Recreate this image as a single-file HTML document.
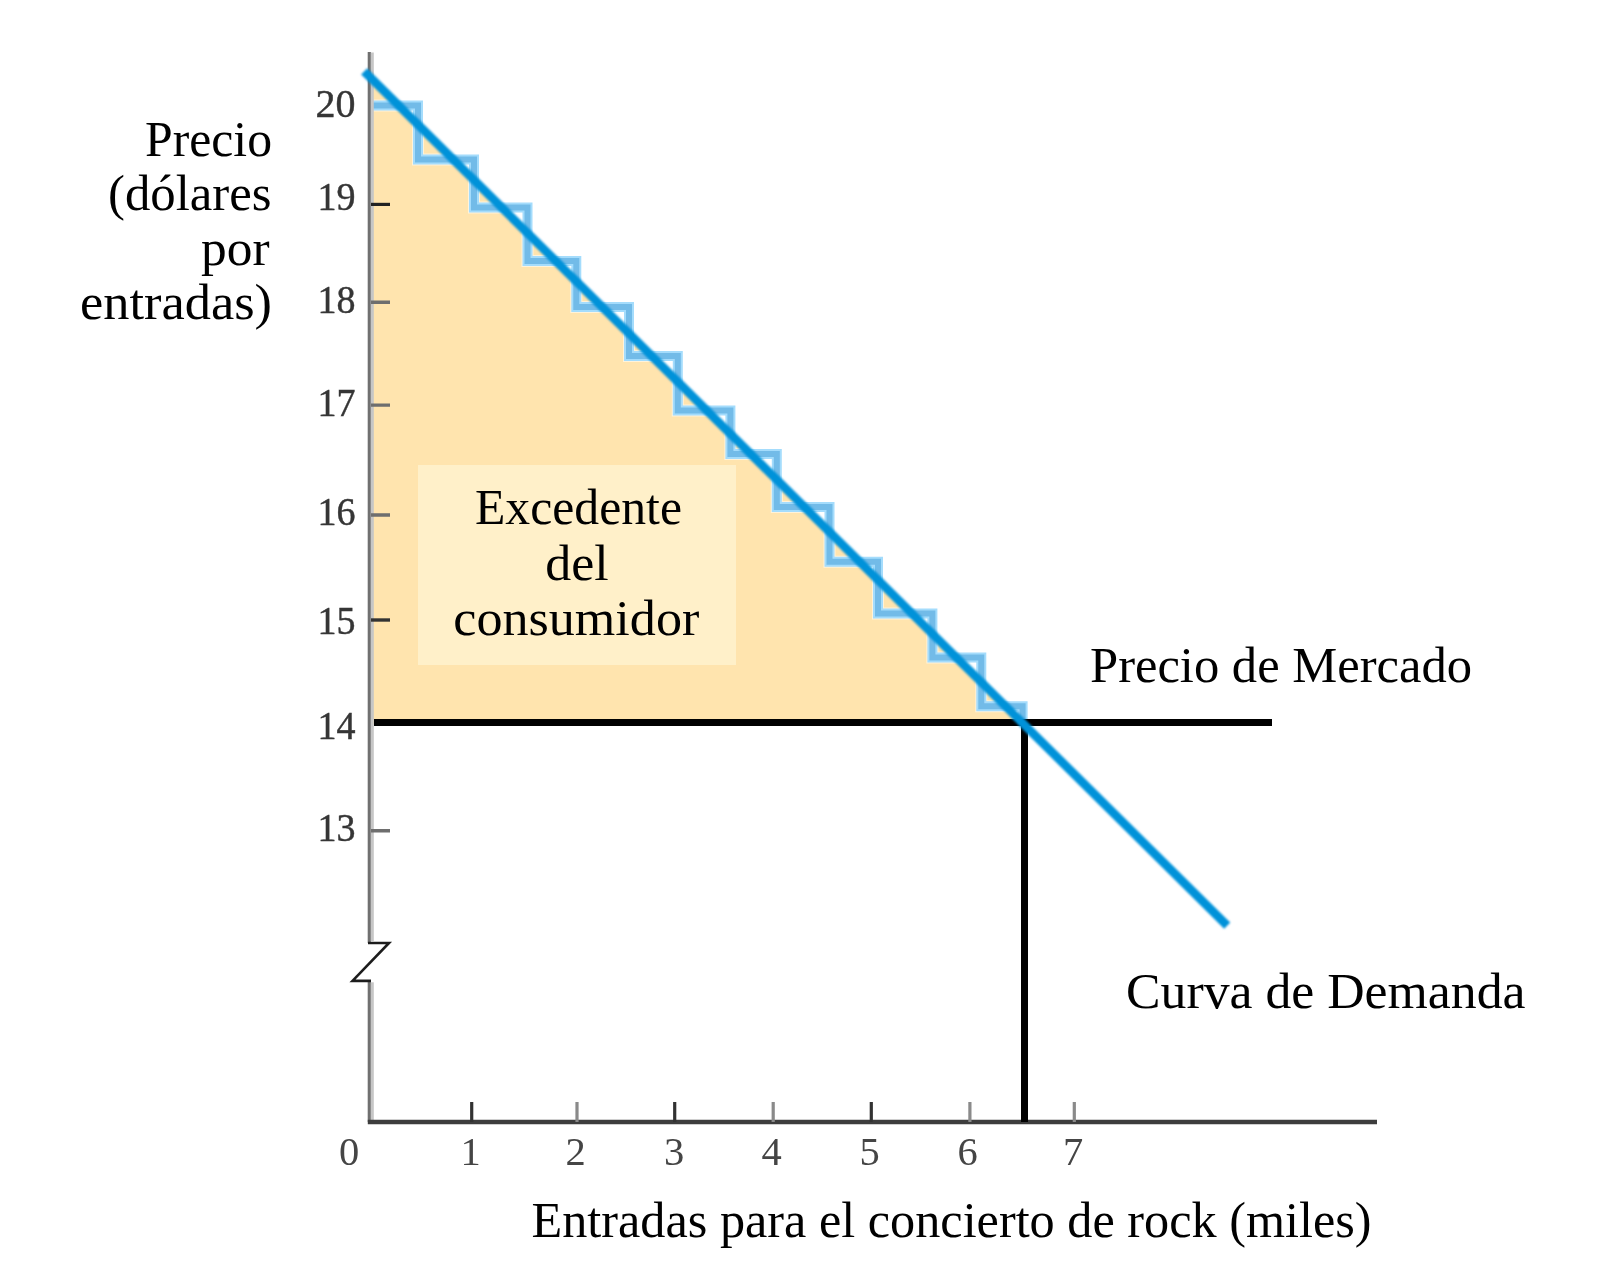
<!DOCTYPE html>
<html lang="es">
<head>
<meta charset="utf-8">
<title>Excedente del consumidor</title>
<style>
html,body{margin:0;padding:0;background:#fff;}
body{width:1607px;height:1277px;overflow:hidden;}
svg{display:block;position:absolute;left:0;top:0;}
.lbl{font-family:"Liberation Serif","DejaVu Serif",serif;font-size:50px;fill:#000;}
.num{font-family:"Liberation Serif","DejaVu Serif",serif;font-size:40.5px;fill:#363636;stroke:#363636;stroke-width:0.45px;}
</style>
</head>
<body>
<svg width="1607" height="1277" viewBox="0 0 1607 1277">
  <defs>
    <filter id="soft" x="-10%" y="-10%" width="120%" height="120%"><feGaussianBlur stdDeviation="0.7"/></filter>
    <filter id="soft3" x="-5%" y="-5%" width="110%" height="110%"><feGaussianBlur stdDeviation="0.8"/></filter>
    <filter id="soft2" x="-5%" y="-5%" width="110%" height="110%"><feGaussianBlur stdDeviation="0.5"/></filter>
  </defs>
  <rect x="0" y="0" width="1607" height="1277" fill="#ffffff"/>

  <!-- consumer surplus area -->
  <polygon points="373,80.3 1023,724.3 373,724.3" fill="#ffe4ae"/>
  <!-- label box -->
  <rect x="418" y="465" width="318" height="200" fill="#fff0c9"/>

  <!-- staircase -->
  <g fill="none" stroke-linejoin="miter" stroke-linecap="butt" filter="url(#soft2)">
    <path d="M373,105.5 H418 V159.4 H474 V207.5 H527.5 V261 H576.3 V307 H629 V356 H677.8 V410.4 H730.4 V454 H776.8 V507 H829.5 V561.7 H878 V613.6 H932.4 V657.4 H981.3 V706.3 H1022.6 V720" stroke="#ffffff" stroke-opacity="0.55" stroke-width="12"/>
    <path d="M373,105.5 H418 V159.4 H474 V207.5 H527.5 V261 H576.3 V307 H629 V356 H677.8 V410.4 H730.4 V454 H776.8 V507 H829.5 V561.7 H878 V613.6 H932.4 V657.4 H981.3 V706.3 H1022.6 V720" stroke="#a4dcfc" stroke-width="10"/>
    <path d="M373,105.5 H418 V159.4 H474 V207.5 H527.5 V261 H576.3 V307 H629 V356 H677.8 V410.4 H730.4 V454 H776.8 V507 H829.5 V561.7 H878 V613.6 H932.4 V657.4 H981.3 V706.3 H1022.6 V720" stroke="#72bbe8" stroke-width="6"/>
  </g>

  <!-- axes -->
  <g filter="url(#soft2)">
    <path d="M369.3,52 V943 M369.3,981 V1122" fill="none" stroke="#707070" stroke-width="3.2"/>
    <path d="M368,943 H389 L352.5,980.9 H371" fill="none" stroke="#1e1e1e" stroke-width="2.6" stroke-linejoin="miter"/>
    <path d="M372.3,52.6 V941.6" fill="none" stroke="#c6c6c6" stroke-width="3"/>
    <path d="M372.3,982.3 V1120" fill="none" stroke="#c6c6c6" stroke-width="3"/>
    <path d="M367.8,1122 H1377" fill="none" stroke="#3c3c3c" stroke-width="4.4"/>
    <!-- y ticks -->
    <path d="M371,204.4 H390" stroke="#222" stroke-width="3.2"/>
    <path d="M371,302.2 H390 M371,405.1 H390 M371,515 H390 M371,830.8 H390" stroke="#6e6e6e" stroke-width="3.4" fill="none"/>
    <path d="M371,620 H390" stroke="#333" stroke-width="3.4"/>
    <!-- x ticks -->
    <path d="M471.7,1102 V1122 M871.3,1102 V1122 M674.7,1102 V1122" stroke="#333" stroke-width="3.2" fill="none"/>
    <path d="M577,1102 V1122 M773.2,1102 V1122 M969.9,1102 V1122 M1074.3,1102 V1122" stroke="#8a8a8a" stroke-width="3.2" fill="none"/>
  </g>

  <!-- market price lines -->
  <g filter="url(#soft2)">
    <path d="M374,722.5 H1272" stroke="#000" stroke-width="7" fill="none"/>
    <path d="M1024.5,722 V1122" stroke="#000" stroke-width="7" fill="none"/>
  </g>

  <!-- demand curve -->
  <path d="M364.2,71.4 L1227.2,925.6" stroke="#0092d9" stroke-width="8.7" fill="none" filter="url(#soft3)"/>

  <!-- tick labels -->
  <g class="num" filter="url(#soft)" text-anchor="end">
    <text x="355.5" y="117" textLength="40" lengthAdjust="spacingAndGlyphs">20</text>
    <text x="355.5" y="210" textLength="38" lengthAdjust="spacingAndGlyphs">19</text>
    <text x="355.5" y="313" textLength="38" lengthAdjust="spacingAndGlyphs">18</text>
    <text x="355.5" y="415.5" textLength="38" lengthAdjust="spacingAndGlyphs">17</text>
    <text x="355.5" y="525" textLength="38" lengthAdjust="spacingAndGlyphs">16</text>
    <text x="355.5" y="634" textLength="38" lengthAdjust="spacingAndGlyphs">15</text>
    <text x="355.5" y="738.5" textLength="38" lengthAdjust="spacingAndGlyphs">14</text>
    <text x="355.5" y="840.5" textLength="38" lengthAdjust="spacingAndGlyphs">13</text>
  </g>
  <g class="num" filter="url(#soft)" text-anchor="middle" style="stroke-width:0;fill:#454545">
    <text x="349" y="1164.5">0</text>
    <text x="470.5" y="1164.5">1</text>
    <text x="575.5" y="1164.5">2</text>
    <text x="674" y="1164.5">3</text>
    <text x="771.5" y="1164.5">4</text>
    <text x="869.5" y="1164.5">5</text>
    <text x="967.5" y="1164.5">6</text>
    <text x="1073" y="1164.5">7</text>
  </g>

  <!-- text labels -->
  <g class="lbl">
    <text x="145" y="155.5" textLength="127" lengthAdjust="spacingAndGlyphs">Precio</text>
    <text x="108" y="209.5" textLength="163.5" lengthAdjust="spacingAndGlyphs">(dólares</text>
    <text x="201" y="264.5" textLength="68.5" lengthAdjust="spacingAndGlyphs">por</text>
    <text x="80" y="319" textLength="192" lengthAdjust="spacingAndGlyphs">entradas)</text>

    <text x="475" y="524" textLength="207" lengthAdjust="spacingAndGlyphs">Excedente</text>
    <text x="545.2" y="579.5" textLength="63.5" lengthAdjust="spacingAndGlyphs">del</text>
    <text x="453.3" y="635" textLength="246" lengthAdjust="spacingAndGlyphs">consumidor</text>

    <text x="1090" y="681.5" textLength="382" lengthAdjust="spacingAndGlyphs">Precio de Mercado</text>
    <text x="1126" y="1007.5" textLength="399.5" lengthAdjust="spacingAndGlyphs">Curva de Demanda</text>
    <text x="531.5" y="1237" textLength="840" lengthAdjust="spacingAndGlyphs">Entradas para el concierto de rock (miles)</text>
  </g>
</svg>
</body>
</html>
